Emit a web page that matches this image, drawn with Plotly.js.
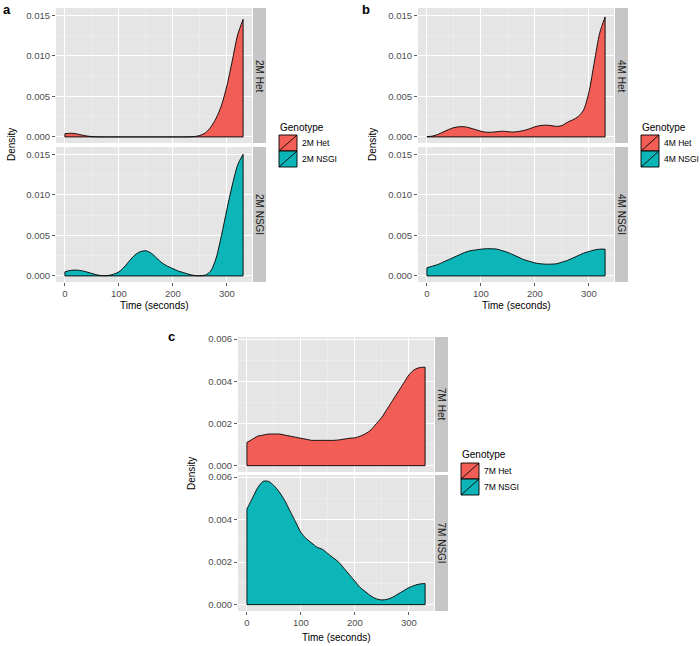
<!DOCTYPE html>
<html><head><meta charset="utf-8">
<script src="https://cdn.plot.ly/plotly-3.0.1.min.js"></script>
<style>html,body{margin:0;padding:0;background:#fff}#chart{width:700px;height:646px}</style>
</head><body><div id="chart"></div>
<script>
// ---------- data ----------
const times = [0,10,20,30,40,50,60,70,80,90,100,110,120,130,140,150,160,170,180,190,200,210,220,230,240,250,260,270,280,290,300,310,320,330];
const het2M  = [0.0004,0.00045,0.0004,0.00025,0.00012,0.00004,0.00001,0,0,0,0,0,0,0,0,0,0,0,0,0,0,0,0,0.00001,0.00005,0.00018,0.0005,0.0012,0.0023,0.0039,0.0063,0.0094,0.0126,0.0145];
const nsgi2M = [0.0005,0.00068,0.00072,0.00065,0.0005,0.0003,0.00012,0.00003,0.00005,0.0002,0.0005,0.0011,0.0019,0.0026,0.0030,0.0031,0.0028,0.0022,0.0016,0.0012,0.0009,0.0006,0.0004,0.0002,0.00005,0.00002,0.0001,0.0006,0.0022,0.0050,0.0082,0.0112,0.0137,0.0150];
const het4M  = [0.00003,0.0001,0.0003,0.0006,0.0009,0.00115,0.00125,0.00125,0.0011,0.0009,0.0007,0.00058,0.00058,0.00065,0.0007,0.00065,0.0006,0.00068,0.0008,0.001,0.00125,0.0014,0.00145,0.0014,0.0013,0.0014,0.0018,0.0021,0.0025,0.0033,0.0055,0.0092,0.0128,0.0148];
const nsgi4M = [0.0010,0.0012,0.0014,0.0017,0.0020,0.0023,0.0026,0.0029,0.0031,0.0032,0.0033,0.00335,0.00335,0.0033,0.0031,0.0029,0.0026,0.0023,0.0020,0.0018,0.0016,0.0015,0.00145,0.00145,0.0015,0.0017,0.0019,0.0022,0.0025,0.0028,0.0030,0.0032,0.0033,0.0033];
const het7M  = [0.0011,0.00125,0.0014,0.00145,0.0015,0.0015,0.0015,0.00145,0.0014,0.00135,0.0013,0.00125,0.0012,0.0012,0.0012,0.0012,0.0012,0.00122,0.00126,0.0013,0.00132,0.0014,0.00152,0.0017,0.0020,0.0023,0.0027,0.0031,0.0035,0.0039,0.0043,0.00455,0.00465,0.00467];
const nsgi7M = [0.0045,0.0050,0.0055,0.0058,0.0058,0.0056,0.0053,0.0049,0.0044,0.0039,0.0034,0.0031,0.0029,0.0027,0.0026,0.0024,0.0022,0.0020,0.0017,0.0014,0.0011,0.0008,0.0006,0.0004,0.00027,0.00022,0.00025,0.00035,0.0005,0.00065,0.0008,0.0009,0.00097,0.00099];

const xTicks = [0,100,200,300];
const yTicksAB = [0,0.005,0.010,0.015];
const yTicksC  = [0,0.002,0.004,0.006];
const panelLabels = ['a','b','c'];
const facetLabels = [['2M Het','2M NSGI'],['4M Het','4M NSGI'],['7M Het','7M NSGI']];
const legendTitle = 'Genotype';
const xTitle = 'Time (seconds)';
const yTitle = 'Density';

// ---------- styling ----------
const W = 700, H = 646;
const HET = '#F25E55', NSGI = '#0BB5B8';
const FONT = 'Liberation Sans, Arial, Helvetica, sans-serif';
const px = v => v / W;
const py = v => 1 - v / H;

function density(vals, xa, ya, color){
  const n = times.length - 1;
  return [
    {x:times, y:vals, xaxis:xa, yaxis:ya, type:'scatter', mode:'lines', fill:'tozeroy',
     fillcolor:color, line:{color:'#000', width:0.9, shape:'spline', smoothing:0.8}, hoverinfo:'skip'},
    {x:[times[0], times[0], times[n], times[n]], y:[vals[0], 0, 0, vals[n]], xaxis:xa, yaxis:ya,
     type:'scatter', mode:'lines', line:{color:'#000', width:0.9}, hoverinfo:'skip'}
  ];
}

const data = [].concat(
  density(het2M,'x','y',HET), density(nsgi2M,'x2','y2',NSGI),
  density(het4M,'x3','y3',HET), density(nsgi4M,'x4','y4',NSGI),
  density(het7M,'x5','y5',HET), density(nsgi7M,'x6','y6',NSGI)
);

// panel geometry in px: [left,right,top,bottom]
const panels = [
  [56,252,8,143],[56,252,147,282],
  [418,614,8,143],[418,614,147,282],
  [238,434,337,472],[238,434,475,611]
];
const yRanges = [[-0.00075,0.0159],[-0.00075,0.0159],[-0.00075,0.0159],[-0.00075,0.0159],[-0.0003,0.0061],[-0.0003,0.0061]];

const layout = {
  width:W, height:H, margin:{l:0,r:0,t:0,b:0},
  paper_bgcolor:'#fff', plot_bgcolor:'#E5E5E5', showlegend:false,
  font:{family:FONT, color:'#000'}, shapes:[], annotations:[]
};

panels.forEach((p,i)=>{
  const n = i===0 ? '' : String(i+1);
  const isBottom = (i%2===1);
  const yt = i>=4 ? yTicksC : yTicksAB;
  layout['xaxis'+n] = {
    domain:[px(p[0]),px(p[1])], anchor:'y'+n, range:[-16.5,346.5],
    tickmode:'array', tickvals:xTicks, ticktext:xTicks.map(String),
    showticklabels:isBottom, ticks:isBottom?'outside':'', ticklen:3, tickwidth:0.8, tickcolor:'#333',
    tickfont:{size:9.5,color:'#4D4D4D',family:FONT},
    showgrid:true, gridcolor:'#FFFFFF', gridwidth:1, zeroline:false, showline:false,
    minor:{dtick:50, tick0:0, showgrid:true, gridcolor:'#F2F2F2', gridwidth:0.5}
  };
  layout['yaxis'+n] = {
    domain:[py(p[3]),py(p[2])], anchor:'x'+n, range:yRanges[i],
    tickmode:'array', tickvals:yt, ticktext:yt.map(v=>v.toFixed(3)),
    ticks:'outside', ticklen:3, tickwidth:0.8, tickcolor:'#333',
    tickfont:{size:9.5,color:'#4D4D4D',family:FONT},
    showgrid:true, gridcolor:'#FFFFFF', gridwidth:1, zeroline:false, showline:false,
    minor:{dtick:(i>=4?0.001:0.0025), tick0:0, showgrid:true, gridcolor:'#F2F2F2', gridwidth:0.5}
  };
  // strip
  const sx0 = p[1]+1, sx1 = p[1]+14;
  layout.shapes.push({type:'rect', xref:'paper', yref:'paper', x0:px(sx0), x1:px(sx1), y0:py(p[3]), y1:py(p[2]),
    fillcolor:'#C6C6C6', line:{width:0}, layer:'below'});
  const g = Math.floor(i/2);
  layout.annotations.push({xref:'paper', yref:'paper', x:px((sx0+sx1)/2), y:py((p[2]+p[3])/2),
    text:facetLabels[g][i%2], textangle:90, showarrow:false, xanchor:'center', yanchor:'middle',
    font:{size:10,color:'#1A1A1A',family:FONT}});
});

// panel-level labels, titles, legends
const groups = [
  {lab:[7,10], left:56,right:252,top:8,bot:282, ytx:11, xty:305, leg:[279,127,135,300]},
  {lab:[366,10], left:418,right:614,top:8,bot:282, ytx:372, xty:305, leg:[641,127,135,662]},
  {lab:[171,336], left:238,right:434,top:337,bot:611, ytx:191, xty:637, leg:[461,454,463,482]}
];
groups.forEach((g,k)=>{
  layout.annotations.push({xref:'paper',yref:'paper',x:px(g.lab[0]),y:py(g.lab[1]),text:'<b>'+panelLabels[k]+'</b>',
    showarrow:false,xanchor:'center',yanchor:'middle',font:{size:13,family:FONT,color:'#000'}});
  layout.annotations.push({xref:'paper',yref:'paper',x:px(g.ytx),y:py((g.top+g.bot)/2),text:yTitle,textangle:-90,
    showarrow:false,xanchor:'center',yanchor:'middle',font:{size:10,family:FONT,color:'#000'}});
  layout.annotations.push({xref:'paper',yref:'paper',x:px((g.left+g.right)/2),y:py(g.xty),text:xTitle,
    showarrow:false,xanchor:'center',yanchor:'middle',font:{size:10,family:FONT,color:'#000'}});
  const [lx, ty, ky, tx] = g.leg;
  layout.annotations.push({xref:'paper',yref:'paper',x:px(lx-1),y:py(ty),text:legendTitle,
    showarrow:false,xanchor:'left',yanchor:'middle',font:{size:10,family:FONT,color:'#000'}});
  [HET,NSGI].forEach((c,j)=>{
    const y0 = ky + j*16, y1 = y0 + 16, x0 = lx, x1 = lx + 18;
    layout.shapes.push({type:'rect',xref:'paper',yref:'paper',x0:px(x0),x1:px(x1),y0:py(y1),y1:py(y0),
      fillcolor:c,line:{color:'#000',width:0.9}});
    layout.shapes.push({type:'line',xref:'paper',yref:'paper',x0:px(x0),y0:py(y1),x1:px(x1),y1:py(y0),
      line:{color:'#000',width:0.9}});
    layout.annotations.push({xref:'paper',yref:'paper',x:px(tx),y:py((y0+y1)/2),text:facetLabels[k][j],
      showarrow:false,xanchor:'left',yanchor:'middle',font:{size:8.5,family:FONT,color:'#000'}});
  });
});

Plotly.newPlot('chart', data, layout, {staticPlot:true, displayModeBar:false});
</script></body></html>
